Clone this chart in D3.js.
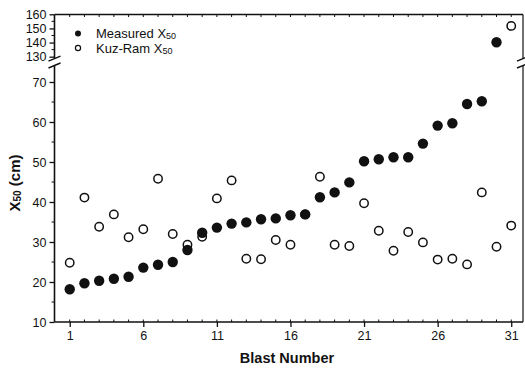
<!DOCTYPE html>
<html><head><meta charset="utf-8">
<script src="https://cdn.jsdelivr.net/npm/d3@7/dist/d3.min.js"></script>
<style>body{margin:0;background:#fff}svg{display:block}</style>
</head><body>
<svg id="c" width="525" height="368"></svg>
<script>
const blasts = d3.range(1, 32);
const measured = [18.2, 19.7, 20.3, 20.8, 21.3, 23.6, 24.3, 25.0, 28.0, 32.3,
  33.6, 34.6, 34.9, 35.7, 35.9, 36.7, 36.9, 41.2, 42.4, 44.9,
  50.2, 50.7, 51.2, 51.2, 54.6, 59.1, 59.7, 64.5, 65.2, 140.2, 151.8];
const kuzRam = [24.8, 41.1, 33.8, 36.9, 31.2, 33.2, 45.8, 32.0, 29.3, 31.3,
  40.9, 45.4, 25.8, 25.7, 30.5, 29.3, 36.9, 46.3, 29.3, 29.0,
  39.7, 32.8, 27.8, 32.5, 29.9, 25.6, 25.8, 24.4, 42.4, 28.8, 34.1];
const xTicks = [1, 6, 11, 16, 21, 26, 31];
const yTicksLow = [10, 20, 30, 40, 50, 60, 70];
const yTicksHigh = [130, 140, 150, 160];

const svg = d3.select("#c");
const L = 54.5, R = 523, T = 14.5, B = 322;
const x = d3.scaleLinear().domain([0, 31.8]).range([55, 523]);
const yLow = d3.scaleLinear().domain([10, 74]).range([B, 66]);
const yHigh = d3.scaleLinear().domain([129, 160]).range([58.1, 14.3]);
const breakLow = 74, breakHigh = 129;
const y = v => v >= 100 ? yHigh(v) : yLow(v);

const font = "'Liberation Sans', Arial, sans-serif";
const ink = "#111";

// frame
const g = svg.append("g").attr("stroke", ink).attr("fill", "none");
g.append("line").attr("x1", L).attr("x2", R).attr("y1", B).attr("y2", B).attr("stroke-width", 1.6);
g.append("line").attr("x1", L).attr("x2", R).attr("y1", T).attr("y2", T).attr("stroke-width", 1.6);
g.append("line").attr("x1", L).attr("x2", L).attr("y1", T).attr("y2", B).attr("stroke-width", 1.6);
g.append("line").attr("x1", R).attr("x2", R).attr("y1", T).attr("y2", B).attr("stroke-width", 1.2);

// x axis
const xAxis = d3.axisBottom(x).tickValues(xTicks).tickSize(5).tickSizeOuter(0).tickPadding(4);
const gx = svg.append("g").attr("transform", `translate(0,${B})`).call(xAxis);
gx.select(".domain").remove();
gx.selectAll("line").attr("stroke", ink).attr("stroke-width", 1.3);
gx.selectAll("text").attr("font-family", font).attr("font-size", 12.5).attr("fill", ink);
// minor x ticks (inward) bottom and top
const minor = d3.range(1, 32);
svg.append("g").selectAll("line").data(minor).join("line")
  .attr("x1", d => x(d)).attr("x2", d => x(d)).attr("y1", B).attr("y2", B - 2.5)
  .attr("stroke", ink).attr("stroke-width", 1);
svg.append("g").selectAll("line").data(minor).join("line")
  .attr("x1", d => x(d)).attr("x2", d => x(d)).attr("y1", T).attr("y2", T + 2.5)
  .attr("stroke", ink).attr("stroke-width", 1);

// y axis low
const gyl = svg.append("g").attr("transform", `translate(${L},0)`)
  .call(d3.axisLeft(yLow).tickValues(yTicksLow).tickSize(5).tickPadding(3));
gyl.select(".domain").remove();
gyl.selectAll("line").attr("stroke", ink).attr("stroke-width", 1.3);
gyl.selectAll("text").attr("font-family", font).attr("font-size", 12.5).attr("fill", ink);
svg.append("g").selectAll("line").data([15, 25, 35, 45, 55, 65]).join("line")
  .attr("x1", L).attr("x2", L - 3).attr("y1", d => yLow(d)).attr("y2", d => yLow(d))
  .attr("stroke", ink).attr("stroke-width", 1);
// y axis high
const gyh = svg.append("g").attr("transform", `translate(${L},0)`)
  .call(d3.axisLeft(yHigh).tickValues(yTicksHigh).tickSize(5).tickPadding(3));
gyh.select(".domain").remove();
gyh.selectAll("line").attr("stroke", ink).attr("stroke-width", 1.3);
gyh.selectAll("text").attr("font-family", font).attr("font-size", 12.5).attr("fill", ink);
svg.append("g").selectAll("line").data([135, 145, 155]).join("line")
  .attr("x1", L).attr("x2", L - 3).attr("y1", d => yHigh(d)).attr("y2", d => yHigh(d))
  .attr("stroke", ink).attr("stroke-width", 1);

// break marks
[L, R].forEach(ax => {
  const yb1 = yHigh(breakHigh) + 0.5, yb2 = yLow(breakLow) - 0.5;
  svg.append("rect").attr("x", ax - 2).attr("y", yb1).attr("width", 4).attr("height", yb2 - yb1).attr("fill", "#fff");
  [yb1, yb2].forEach(yy => {
    svg.append("line").attr("x1", ax - 6).attr("x2", ax + 6).attr("y1", yy + 2.5).attr("y2", yy - 2.5)
      .attr("stroke", ink).attr("stroke-width", 1.4);
  });
});

// points
svg.append("g").selectAll("circle").data(kuzRam).join("circle")
  .attr("cx", (d, i) => x(blasts[i])).attr("cy", d => y(d)).attr("r", 4.2)
  .attr("fill", "#fff").attr("stroke", ink).attr("stroke-width", 1.5);
svg.append("g").selectAll("circle").data(measured).join("circle")
  .attr("cx", (d, i) => x(blasts[i])).attr("cy", d => y(d))
  .attr("r", (d, i) => i === 30 ? 4.2 : 5.2)
  .attr("fill", (d, i) => i === 30 ? "#fff" : ink)
  .attr("stroke", ink).attr("stroke-width", (d, i) => i === 30 ? 1.5 : 0);

// legend
svg.append("circle").attr("cx", 78).attr("cy", 33.5).attr("r", 3).attr("fill", ink);
svg.append("circle").attr("cx", 78).attr("cy", 48).attr("r", 2.6).attr("fill", "#fff").attr("stroke", ink).attr("stroke-width", 1.2);
const lt1 = svg.append("text").attr("x", 96).attr("y", 38).attr("font-family", font).attr("font-size", 13).attr("fill", ink);
lt1.append("tspan").text("Measured X");
lt1.append("tspan").attr("font-size", 9).attr("dy", 1).text("50");
const lt2 = svg.append("text").attr("x", 96).attr("y", 52.5).attr("font-family", font).attr("font-size", 13).attr("fill", ink);
lt2.append("tspan").text("Kuz-Ram X");
lt2.append("tspan").attr("font-size", 9).attr("dy", 1).text("50");

// axis titles
svg.append("text").attr("x", 287).attr("y", 363).attr("text-anchor", "middle")
  .attr("font-family", font).attr("font-weight", "bold").attr("font-size", 14.5).attr("fill", ink)
  .text("Blast Number");
const yt = svg.append("text").attr("transform", "translate(20,183) rotate(-90)").attr("text-anchor", "middle")
  .attr("font-family", font).attr("font-weight", "bold").attr("font-size", 15).attr("fill", ink);
yt.append("tspan").text("X");
yt.append("tspan").attr("font-size", 10).attr("dy", 1).text("50");
yt.append("tspan").attr("dy", -1).text(" (cm)");
</script>
</body></html>
